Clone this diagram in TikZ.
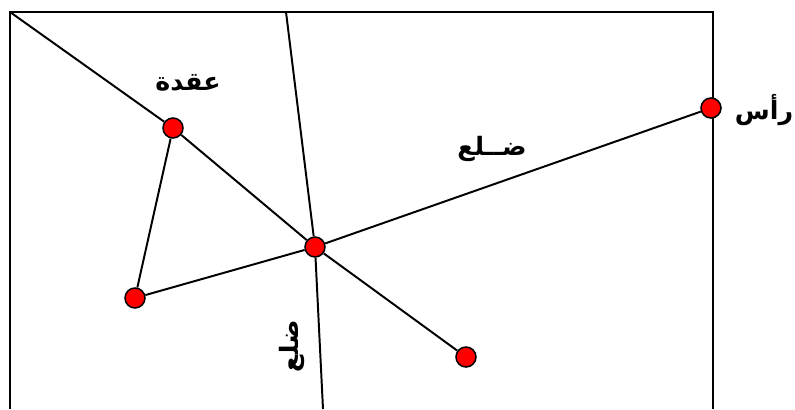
\documentclass[tikz,border=0pt]{standalone}
\usepackage{fontspec}
\newfontfamily\arabicfont[Script=Arabic]{DejaVu Sans}
\TeXXeTstate=1
\begin{document}
\begin{tikzpicture}[x=0.025cm,y=-0.025cm,line width=1.4pt,
    vertex/.style={circle,draw,fill=red,line width=1.1pt,inner sep=0pt,minimum size=0.5cm},
    label text/.style={font=\arabicfont\bfseries\fontsize{18}{21}\selectfont,inner sep=0pt}]
        \useasboundingbox (0,0) rectangle (795,409);
        % frame, open at the bottom
        \draw (10,409) -- (10,12) -- (713,12) -- (713,409);
        \coordinate (corner) at (10,12);
        \coordinate (top) at (286,12);
        \coordinate (bottom) at (323,409);
        \node[vertex] (knot) at (173,128) {};
        \node[vertex] (mid) at (315,247) {};
        \node[vertex] (left) at (135,298) {};
        \node[vertex] (low) at (466,357) {};
        \node[vertex] (apex) at (711,108) {};
        \draw (corner) -- (knot) -- (mid) -- (low);
        \draw (top) -- (mid) -- (bottom);
        \draw (knot) -- (left) -- (mid) -- (apex);
        % labels
        \node[label text] (knotlabel) at (188,83) {\beginR عقدة\endR};
        \node[label text] (apexlabel) at (764,110) {\beginR رأس\endR};
        \node[label text] (edgelabel) at (492,149) {\beginR ضــلع\endR};
        \node[label text,rotate=90] (edgelabel2) at (292,346) {\beginR ضلع\endR};
    \end{tikzpicture}
\end{document}
